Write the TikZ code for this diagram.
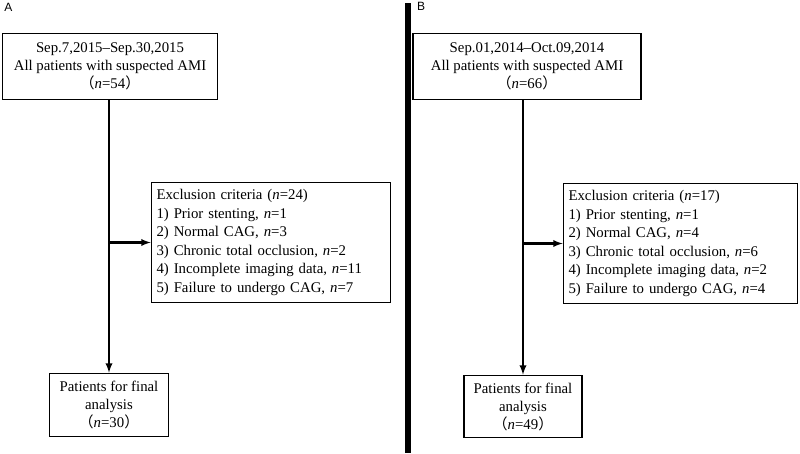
\documentclass[tikz,border=0pt]{standalone}
\usepackage{fontspec}
\setmainfont{Liberation Serif}
\newfontfamily\labelfont{Liberation Sans}
\newfontfamily\cjk{Noto Sans CJK SC}
\usepackage{tikz}
\usetikzlibrary{arrows, positioning, calc}

\newcommand{\lpar}{{\cjk （}}
\newcommand{\rpar}{{\cjk ）}}

\begin{document}
\begin{tikzpicture}[x=1pt, y=-1pt,
	every node/.style={font=\fontsize{14.8}{18}\selectfont},
	flowbox/.style={draw, line width=1.7pt, align=center, inner sep=2pt},
	critbox/.style={draw, line width=1.7pt, align=left, inner xsep=5pt, text width=229pt, minimum height=120pt, font=\fontsize{14.8}{18.5}\selectfont},
	flowline/.style={line width=2.2pt, -latex},
	panel/.style={font=\labelfont\fontsize{12}{14}\selectfont, inner sep=0pt}]
	\useasboundingbox (0,0) rectangle (800,453);
	
	% panel A
	\node[panel] (labA) at (8.5,7) {A};
	\node[flowbox, minimum width=215pt, minimum height=66pt] (startA) at (110,66.5)
	{Sep.7,2015--Sep.30,2015\\ All patients with suspected AMI\\ \lpar\textit{n}=54\rpar};
	\node[critbox] (exclA) at (271,242.5)
	{Exclusion criteria (\textit{n}=24)\\
		1) Prior stenting, \textit{n}=1\\
		2) Normal CAG, \textit{n}=3\\
		3) Chronic total occlusion, \textit{n}=2\\
		4) Incomplete imaging data, \textit{n}=11\\
		5) Failure to undergo CAG, \textit{n}=7};
	\node[flowbox, minimum width=119pt, minimum height=63pt] (finalA) at (109,405)
	{Patients for final\\ analysis\\ \lpar\textit{n}=30\rpar};
	
	\draw[flowline] (finalA.north |- startA.south) -- (finalA.north);
	\draw[flowline] (finalA.north |- exclA.west) -- (exclA.west);
	
	% divider
	\draw[line width=6.5pt] (408,3) -- (408,453);
	
	% panel B
	\node[panel] (labB) at (421,6) {B};
	\node[flowbox, minimum width=228pt, minimum height=66pt] (startB) at (527,66.5)
	{Sep.01,2014--Oct.09,2014\\ All patients with suspected AMI\\ \lpar\textit{n}=66\rpar};
	\node[critbox, text width=224pt] (exclB) at (680.5,243.5)
	{Exclusion criteria (\textit{n}=17)\\
		1) Prior stenting, \textit{n}=1\\
		2) Normal CAG, \textit{n}=4\\
		3) Chronic total occlusion, \textit{n}=6\\
		4) Incomplete imaging data, \textit{n}=2\\
		5) Failure to undergo CAG, \textit{n}=4};
	\node[flowbox, minimum width=118pt, minimum height=62pt] (finalB) at (523,406.5)
	{Patients for final\\ analysis\\ \lpar\textit{n}=49\rpar};
	
	\draw[flowline] (finalB.north |- startB.south) -- (finalB.north);
	\draw[flowline] (finalB.north |- exclB.west) -- (exclB.west);
\end{tikzpicture}
\end{document}
